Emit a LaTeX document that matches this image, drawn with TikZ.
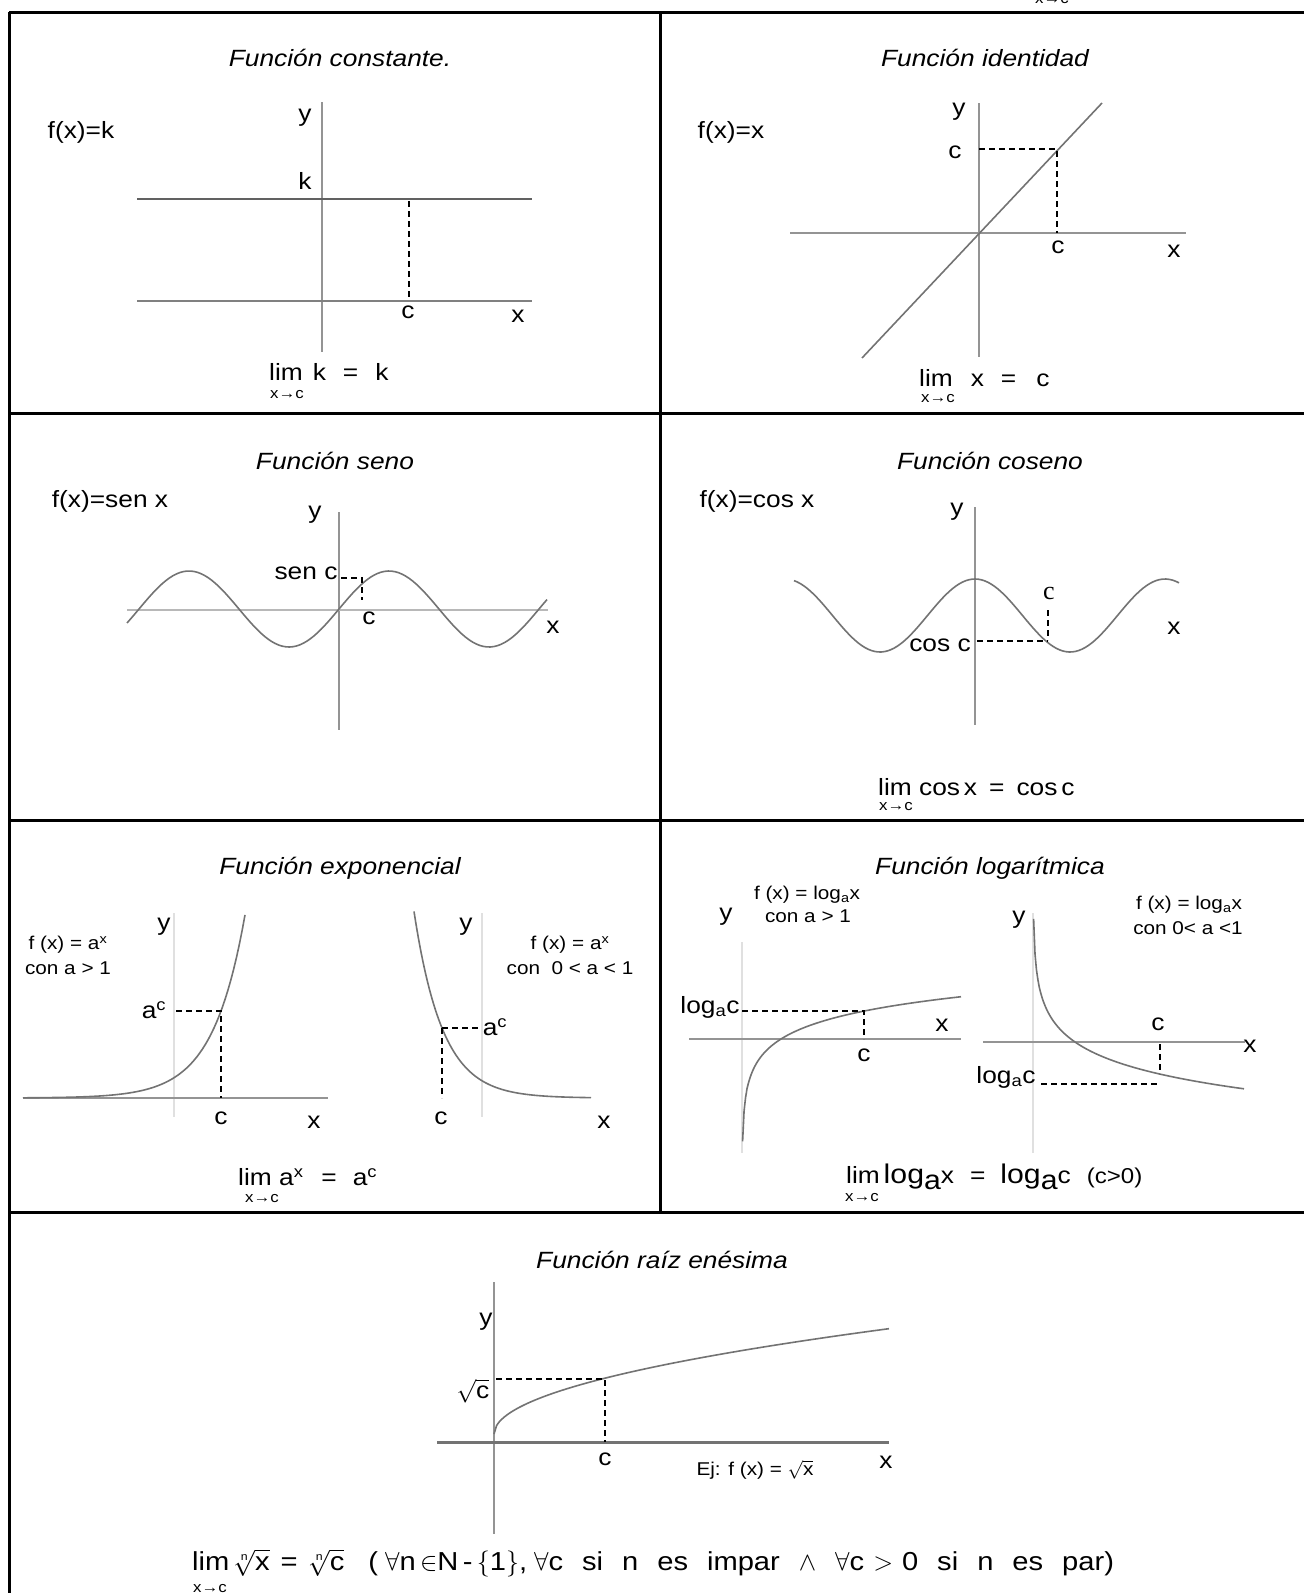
\documentclass[tikz,border=0pt]{standalone}
\usepackage{fix-cm}
\usepackage{fontspec}
\setmainfont{Liberation Sans}[FakeStretch=1.12]
\newfontfamily\serifc{Liberation Serif}
\newcommand\wgap{\hspace{19pt}}
\newcommand\idx{\mbox{\fontsize{11}{11}\selectfont n}}
\begin{document}
\begin{tikzpicture}[x=1pt, y=-1pt,
    frame/.style={black, line width=3pt},
    axis/.style={black!42, line width=1.6pt},
    faint/.style={black!12, line width=2pt},
    curve/.style={black!55, line width=1.6pt},
    guide/.style={black, line width=1.3pt, dash pattern=on 6pt off 4pt},
    lbl/.style={inner sep=0pt, font=\fontsize{23.5}{26}\selectfont},
    sml/.style={inner sep=0pt, font=\fontsize{18.5}{21}\selectfont},
    undr/.style={inner sep=0pt, font=\fontsize{15}{17}\selectfont},
    ttl/.style={inner sep=0pt, font=\fontsize{23.5}{26}\selectfont\itshape}]
    \useasboundingbox (0,0) rectangle (1304,1593);
    \clip (0,0) rectangle (1304,1593);

    % Table frame
    \draw[frame] (9,12) -- (1304,12);
    \draw[frame] (9,12) -- (9,1593);
    \draw[frame] (660,12) -- (660,1212);
    \foreach \y in {413,820,1212} {
        \draw[frame] (9,\y) -- (1304,\y);
    }
    \node[undr] (prev) at (1052,0) {x→c};

    % Constant function
    \node[ttl] (tconst) at (340,58) {Función constante.};
    \node[lbl] (fk) at (81,132) {f(x)=k};
    \draw[axis] (322,102) -- (322,352);
    \draw[black!62, line width=2pt] (137,199) -- (532,199);
    \draw[black!50, line width=2pt] (137,301) -- (532,301);
    \draw[guide] (409,201) -- (409,300);
    \node[lbl] (y1) at (305,118) {y};
    \node[lbl] (k1) at (305,181) {k};
    \node[lbl] (c1) at (408,312) {c};
    \node[lbl] (x1) at (518,316) {x};
    \node[lbl, anchor=west] (lim1) at (269,372) {lim\hspace{10pt}k\hspace{17pt}=\hspace{17pt}k};
    \node[undr] (sub1) at (287,395) {x→c};

    % Identity function
    \node[ttl] (tid) at (985,58) {Función identidad};
    \node[lbl] (fx) at (731,132) {f(x)=x};
    \draw[axis] (979,103) -- (979,357);
    \draw[axis] (790,233) -- (1186,233);
    \draw[curve] (862,358) -- (1102,103);
    \draw[guide] (979,149) -- (1057,149) -- (1057,233);
    \node[lbl] (y2) at (959,112) {y};
    \node[lbl] (c2a) at (955,152) {c};
    \node[lbl] (c2b) at (1058,247) {c};
    \node[lbl] (x2) at (1174,251) {x};
    \node[lbl, anchor=west] (lim2) at (919,378) {lim\hspace{18pt}x\hspace{17pt}=\hspace{20pt}c};
    \node[undr] (sub2) at (938,399) {x→c};

    % Sine
    \node[ttl] (tsen) at (335,461) {Función seno};
    \node[lbl] (fsen) at (110,501) {f(x)=sen x};
    \draw[axis] (339,512) -- (339,730);
    \draw[black!28, line width=2pt] (127,610) -- (548,610);
    \draw[curve] plot[domain=127:547, samples=120] (\x, {609-38*sin((\x-339)*1.8)});
    \draw[guide] (341,578) -- (362,578) -- (362,600);
    \node[lbl] (y3) at (315,515) {y};
    \node[lbl] (senc) at (306,573) {sen c};
    \node[lbl] (c3) at (369,618) {c};
    \node[lbl] (x3) at (553,627) {x};

    % Cosine
    \node[ttl] (tcos) at (990,461) {Función coseno};
    \node[lbl] (fcos) at (757,501) {f(x)=cos x};
    \draw[axis] (975,507) -- (975,725);
    \draw[curve] plot[domain=794:1179, samples=120] (\x, {615.5-36.5*cos((\x-975)*1.8947)});
    \draw[guide] (977,641) -- (1048,641);
    \draw[guide] (1048,610) -- (1048,640);
    \node[lbl] (y4) at (957,512) {y};
    \node[lbl, font=\fontsize{26}{28}\selectfont\serifc] (c4) at (1049,593) {c};
    \node[lbl] (cosc) at (940,645) {cos c};
    \node[lbl] (x4) at (1174,628) {x};
    \node[lbl, anchor=west] (lim4) at (878,787) {lim cos\,x\hspace{12pt}=\hspace{12pt}cos\,c};
    \node[undr] (sub4) at (896,807) {x→c};

    % Exponential, a > 1 and 0 < a < 1
    \node[ttl] (texp) at (340,868) {Función exponencial};
    \node[sml] (fa1) at (68,945) {f (x) = a\textsuperscript{x}};
    \node[sml] (con1) at (68,968) {con a > 1};
    \draw[faint] (174,913) -- (174,1117);
    \draw[axis] (23,1098) -- (328,1098);
    \draw[curve] plot[domain=23:245, samples=80] (\x, {1098-87*exp(0.031*(\x-221))});
    \draw[guide] (176,1011) -- (221,1011) -- (221,1098);
    \node[lbl] (y5) at (164,927) {y};
    \node[lbl] (ac1) at (154,1010) {a\textsuperscript{c}};
    \node[lbl] (c5a) at (221,1118) {c};
    \node[lbl] (x5a) at (314,1122) {x};

    \draw[faint] (482,913) -- (482,1117);
    \draw[curve] plot[domain=414:591, samples=80] (\x, {1098-70*exp(-0.035*(\x-442))});
    \draw[guide] (442,1028) -- (478,1028);
    \draw[guide] (442,1028) -- (442,1098);
    \node[lbl] (y6) at (466,927) {y};
    \node[lbl] (ac2) at (495,1027) {a\textsuperscript{c}};
    \node[lbl] (c5b) at (441,1118) {c};
    \node[lbl] (x5b) at (604,1122) {x};
    \node[sml] (fa2) at (570,945) {f (x) = a\textsuperscript{x}};
    \node[sml] (con2) at (570,968) {con\ \ 0 < a < 1};
    \node[lbl, anchor=west] (lim5) at (238,1177) {lim a\textsuperscript{x}\hspace{18pt}=\hspace{16pt}a\textsuperscript{c}};
    \node[undr] (sub5) at (262,1199) {x→c};

    % Logarithm, a > 1 and 0 < a < 1
    \node[ttl] (tlog) at (990,868) {Función logarítmica};
    \node[sml] (flog1) at (807,895) {f (x) = log\textsubscript{a}x};
    \node[sml] (clog1) at (808,916) {con a > 1};
    \draw[faint] (742,942) -- (742,1153);
    \draw[axis] (689,1039) -- (961,1039);
    \draw[curve] plot[domain=742.6:961, samples=150] (\x, {1039-24.5*ln((\x-742)/39)});
    \draw[guide] (742,1011) -- (864,1011) -- (864,1039);
    \node[lbl] (y7) at (726,917) {y};
    \node[lbl] (logc1) at (710,1007) {log\textsubscript{a}c};
    \node[lbl] (x7) at (942,1025) {x};
    \node[lbl] (c7) at (864,1055) {c};

    \draw[faint] (1033,913) -- (1033,1153);
    \draw[axis] (983,1042) -- (1245,1042);
    \draw[curve] plot[domain=1033.6:1244, samples=150] (\x, {1042+29*ln((\x-1033)/42)});
    \draw[guide] (1160,1044) -- (1160,1074);
    \draw[guide] (1041,1084) -- (1158,1084);
    \node[lbl] (y8) at (1019,920) {y};
    \node[lbl] (c8) at (1158,1024) {c};
    \node[lbl] (x8) at (1250,1046) {x};
    \node[lbl] (logc2) at (1006,1077) {log\textsubscript{a}c};
    \node[sml] (flog2) at (1189,905) {f (x) = log\textsubscript{a}x};
    \node[sml] (clog2) at (1188,928) {con 0< a <1};
    \node[lbl, anchor=west] (lim6) at (846,1177) {lim\,{\fontsize{27}{29}\selectfont log\raisebox{-6pt}{a}}x\hspace{16pt}=\hspace{15pt}{\fontsize{27}{29}\selectfont log\raisebox{-6pt}{a}}c\hspace{16pt}{\fontsize{21.5}{23}\selectfont(c>0)}};
    \node[undr] (sub6) at (862,1198) {x→c};

    % n-th root
    \node[ttl] (troot) at (662,1260) {Función raíz enésima};
    \draw[axis] (494,1282) -- (494,1534);
    \draw[black!55, line width=3pt] (437,1442) -- (889,1442);
    \draw[curve] plot[domain=494:889, samples=150] (\x, {1434-5.3*sqrt(\x-494)});
    \draw[guide] (496,1379) -- (605,1379) -- (605,1442);
    \node[lbl] (y9) at (486,1322) {y};
    \node[lbl] (sqrtc) at (473,1391) {$\sqrt{\mbox{c}}$};
    \node[lbl] (c9) at (605,1459) {c};
    \node[sml] (ej) at (755,1470) {Ej: f (x) = $\sqrt{\mbox{x}}$};
    \node[lbl] (x9) at (886,1462) {x};
    \node[lbl, anchor=west, font=\fontsize{26}{28}\selectfont] (lim7) at (192,1563) {lim\,$\sqrt[\idx]{\mbox{x}}$\hspace{11pt}=\hspace{11pt}$\sqrt[\idx]{\mbox{c}}$\hspace{24pt}(\hspace{7pt}$\forall$n\,$\in$N\,-\,$\Big\{$1$\Big\}$,\hspace{7pt}$\forall$c\wgap si\wgap n\wgap es\wgap impar\wgap$\wedge$\wgap$\forall$c\hspace{9pt}$>$\hspace{9pt}0\wgap si\wgap n\wgap es\wgap par)};
    \node[undr] (sub7) at (210,1589) {x→c};
\end{tikzpicture}
\end{document}
